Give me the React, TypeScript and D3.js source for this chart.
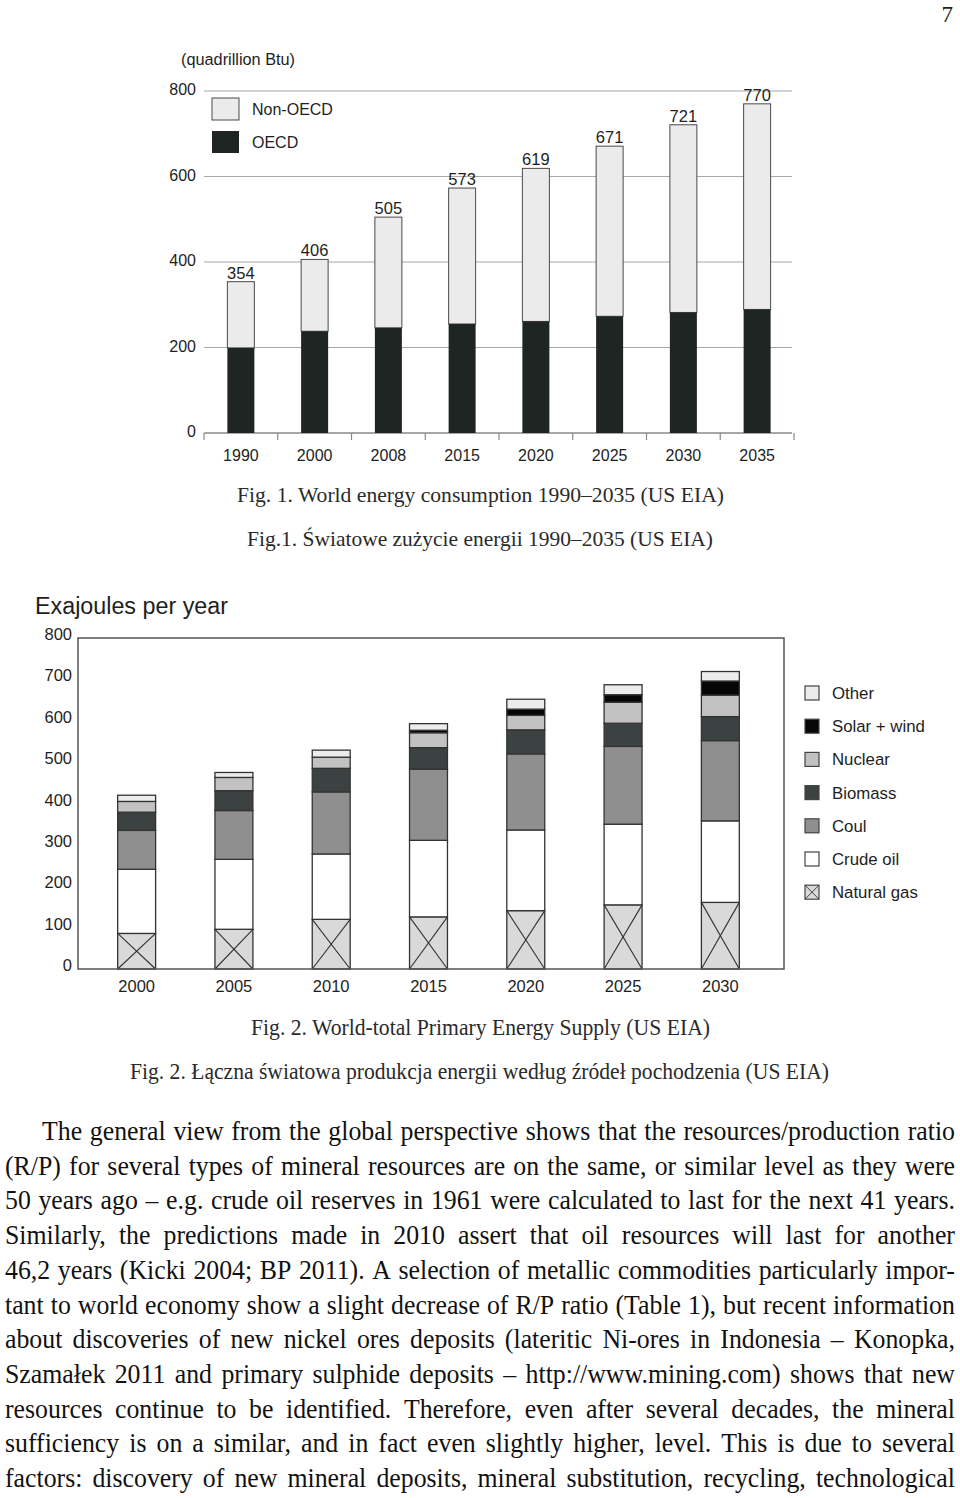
import React, { useEffect, useRef } from "react";
import * as d3 from "d3";

// ---------- Fig. 1 data ----------
const years1 = ["1990", "2000", "2008", "2015", "2020", "2025", "2030", "2035"];
const oecd1 = [199, 238, 246, 255, 261, 273, 282, 289];
const total1 = [354, 406, 505, 573, 619, 671, 721, 770];
const ticks1 = [0, 200, 400, 600, 800];
const legend1 = ["Non-OECD", "OECD"];

// ---------- Fig. 2 data ----------
const years2 = ["2000", "2005", "2010", "2015", "2020", "2025", "2030"];
const gas2 = [86, 96, 120, 126, 141, 155, 161];
const oil2 = [155, 169, 158, 185, 195, 195, 197];
const coal2 = [94, 118, 150, 172, 184, 188, 194];
const biomass2 = [44, 48, 57, 52, 58, 56, 58];
const nuclear2 = [26, 32, 27, 36, 35, 51, 52];
const solar2 = [0, 0, 0, 6, 15, 18, 34];
const other2 = [15, 12, 17, 16, 24, 24, 23];
const ticks2 = [0, 100, 200, 300, 400, 500, 600, 700, 800];
const seriesNames2 = ["Natural gas", "Crude oil", "Coul", "Biomass", "Nuclear", "Solar + wind", "Other"];
const seriesValues2 = [gas2, oil2, coal2, biomass2, nuclear2, solar2, other2];
const seriesFills2 = ["#d9d9d9", "#ffffff", "#8f8f8f", "#3c4242", "#c2c2c2", "#060606", "#ececec"];
const legendOrder2 = ["Other", "Solar + wind", "Nuclear", "Biomass", "Coul", "Crude oil", "Natural gas"];

// ---------- Texts ----------
const pageNumber = "7";
const unit1 = "(quadrillion Btu)";
const unit2 = "Exajoules per year";
const captions = [
  { text: "Fig. 1. World energy consumption 1990–2035 (US EIA)", x0: 237, x1: 724, y: 502, size: 21 },
  { text: "Fig.1. Światowe zużycie energii 1990–2035 (US EIA)", x0: 247, x1: 713, y: 546, size: 21 },
  { text: "Fig. 2. World-total Primary Energy Supply (US EIA)", x0: 251, x1: 710, y: 1035, size: 24 },
  { text: "Fig. 2. Łączna światowa produkcja energii według źródeł pochodzenia (US EIA)", x0: 130, x1: 829, y: 1079, size: 24 },
];
const paraLines = [
  "The general view from the global perspective shows that the resources/production ratio",
  "(R/P) for several types of mineral resources are on the same, or similar level as they were",
  "50 years ago – e.g. crude oil reserves in 1961 were calculated to last for the next 41 years.",
  "Similarly, the predictions made in 2010 assert that oil resources will last for another",
  "46,2 years (Kicki 2004; BP 2011). A selection of metallic commodities particularly impor-",
  "tant to world economy show a slight decrease of R/P ratio (Table 1), but recent information",
  "about discoveries of new nickel ores deposits (lateritic Ni-ores in Indonesia – Konopka,",
  "Szamałek 2011 and primary sulphide deposits – http://www.mining.com) shows that new",
  "resources continue to be identified. Therefore, even after several decades, the mineral",
  "sufficiency is on a similar, and in fact even slightly higher, level. This is due to several",
  "factors: discovery of new mineral deposits, mineral substitution, recycling, technological",
];

const SANS = "'Liberation Sans', Arial, sans-serif";
const SERIF = "'Liberation Serif', 'Times New Roman', serif";
const INK = "#1e1e1e";

export default function App() {
  const paraRef = useRef<SVGGElement>(null);

  // Fig.1 scales
  const x1 = d3.scaleBand<string>().domain(years1).range([204, 794]).paddingInner(0.634).paddingOuter(0.317);
  const y1 = d3.scaleLinear().domain([0, 800]).range([433, 91]);

  // Fig.2 scales
  const x2 = d3.scaleBand<string>().domain(years2).range([88, 769]).paddingInner(0.61).paddingOuter(0.305);
  const y2 = d3.scaleLinear().domain([0, 800]).range([969, 638]);

  const stackRows = years2.map((yr, i) => {
    const row: any = { year: yr };
    seriesNames2.forEach((n, k) => (row[n] = seriesValues2[k][i]));
    return row;
  });
  const stacked = d3.stack<any>().keys(seriesNames2)(stackRows);

  useEffect(() => {
    const g = d3.select(paraRef.current);
    g.selectAll("*").remove();
    const fontSize = 27.5;
    const measured = paraLines.map((line) =>
      line.split(" ").map((w) => {
        const t = g.append("text").attr("font-size", fontSize).attr("font-family", SERIF).text(w);
        const width = (t.node() as SVGTextElement).getComputedTextLength();
        t.remove();
        return { w, width };
      })
    );
    const left = (i: number) => (i === 0 ? 42 : 5);
    const right = 955;
    const minGap = 7;
    let s = 1;
    measured.forEach((words, i) => {
      const W = d3.sum(words, (d) => d.width);
      s = Math.min(s, (right - left(i) - (words.length - 1) * minGap) / W);
    });
    measured.forEach((words, i) => {
      const W = d3.sum(words, (d) => d.width);
      const gap = (right - left(i) - s * W) / (words.length - 1);
      let x = left(i);
      const yb = 1140 + i * 34.7;
      words.forEach((d) => {
        g.append("text")
          .attr("x", 0)
          .attr("y", 0)
          .attr("transform", `translate(${x},${yb}) scale(${s},1)`)
          .attr("font-size", fontSize)
          .attr("font-family", SERIF)
          .attr("fill", "#111")
          .text(d.w);
        x += d.width * s + gap;
      });
    });
  }, []);

  const bw1 = x1.bandwidth();
  const bw2 = x2.bandwidth();
  const step1 = x1.step();

  return (
    <svg
      width={960}
      height={1498}
      viewBox="0 0 960 1498"
      style={{ position: "absolute", left: 0, top: 0, display: "block", background: "#fff" }}
    >
      <rect x={0} y={0} width={960} height={1498} fill="#fff" />
      {/* page number */}
      <text x={953} y={22} fontFamily={SERIF} fontSize={23} textAnchor="end" fill={INK}>
        {pageNumber}
      </text>

      {/* ================= Fig. 1 ================= */}
      <g fontFamily={SANS} fill={INK}>
        <text x={181} y={65} fontSize={16.3}>{unit1}</text>
        {ticks1.filter((t) => t > 0).map((t) => (
          <line key={"g" + t} x1={204} x2={792} y1={y1(t)} y2={y1(t)} stroke="#a8a8a8" strokeWidth={1.2} />
        ))}
        {ticks1.map((t) => (
          <text key={"yl" + t} x={196} y={y1(t) + 4} fontSize={16} textAnchor="end">{t}</text>
        ))}
        <line x1={204} x2={792} y1={y1(0)} y2={y1(0)} stroke="#8a8a8a" strokeWidth={1.3} />
        {d3.range(years1.length + 1).map((k) => (
          <line key={"tk" + k} x1={204 + k * step1} x2={204 + k * step1} y1={y1(0)} y2={y1(0) + 7} stroke="#8a8a8a" strokeWidth={1.2} />
        ))}
        {years1.map((yr, i) => (
          <g key={yr}>
            <rect x={x1(yr)} y={y1(total1[i])} width={bw1} height={y1(oecd1[i]) - y1(total1[i])} fill="#ebebeb" stroke="#4a4a4a" strokeWidth={1} />
            <rect x={x1(yr)} y={y1(oecd1[i])} width={bw1} height={y1(0) - y1(oecd1[i])} fill="#1f2523" />
            <text x={(x1(yr) as number) + bw1 / 2} y={y1(total1[i]) - 3} fontSize={16.5} textAnchor="middle">{total1[i]}</text>
            <text x={(x1(yr) as number) + bw1 / 2} y={461} fontSize={16} textAnchor="middle">{yr}</text>
          </g>
        ))}
        {/* legend */}
        <rect x={212} y={98} width={27} height={22} fill="#ebebeb" stroke="#4a4a4a" strokeWidth={1} />
        <text x={252} y={115} fontSize={16}>{legend1[0]}</text>
        <rect x={212} y={131} width={27} height={22} fill="#1f2523" />
        <text x={252} y={148} fontSize={16}>{legend1[1]}</text>
      </g>

      {/* captions */}
      {captions.map((c) => (
        <text key={c.text} x={c.x0} y={c.y} fontFamily={SERIF} fontSize={c.size} fill="#2a2a2a" textLength={c.x1 - c.x0} lengthAdjust="spacingAndGlyphs">
          {c.text}
        </text>
      ))}

      {/* ================= Fig. 2 ================= */}
      <g fontFamily={SANS} fill={INK}>
        <text x={35} y={614} fontSize={23.3}>{unit2}</text>
        {ticks2.map((t) => (
          <text key={"yl2" + t} x={72} y={y2(t) + 2} fontSize={16.5} textAnchor="end">{t}</text>
        ))}
        {years2.map((yr) => (
          <text key={"xl2" + yr} x={(x2(yr) as number) + bw2 / 2} y={992} fontSize={16.5} textAnchor="middle">{yr}</text>
        ))}
        {stacked.map((layer, k) => (
          <g key={layer.key}>
            {layer.map((d, i) => {
              const v = d[1] - d[0];
              if (v <= 0) return null;
              const x = x2(years2[i]) as number;
              const yt = y2(d[1]);
              const yb = y2(d[0]);
              return (
                <g key={i}>
                  <rect x={x} y={yt} width={bw2} height={yb - yt} fill={seriesFills2[k]} stroke="#333" strokeWidth={1.3} />
                  {k === 0 && (
                    <g stroke="#333" strokeWidth={1.1}>
                      <line x1={x} y1={yt} x2={x + bw2} y2={yb} />
                      <line x1={x} y1={yb} x2={x + bw2} y2={yt} />
                    </g>
                  )}
                </g>
              );
            })}
          </g>
        ))}
        {/* frame */}
        <rect x={78} y={y2(800)} width={706} height={y2(0) - y2(800)} fill="none" stroke="#555" strokeWidth={1.5} />
        {/* legend */}
        {legendOrder2.map((name, j) => {
          const k = seriesNames2.indexOf(name);
          const ly = 686 + j * 33.2;
          return (
            <g key={"lg" + name}>
              <rect x={805} y={ly} width={14} height={14} fill={seriesFills2[k]} stroke="#444" strokeWidth={1.2} />
              {k === 0 && (
                <g stroke="#444" strokeWidth={1}>
                  <line x1={805} y1={ly} x2={819} y2={ly + 14} />
                  <line x1={805} y1={ly + 14} x2={819} y2={ly} />
                </g>
              )}
              <text x={832} y={ly + 13} fontSize={16.8}>{name}</text>
            </g>
          );
        })}
      </g>

      {/* paragraph */}
      <g ref={paraRef} />
    </svg>
  );
}
